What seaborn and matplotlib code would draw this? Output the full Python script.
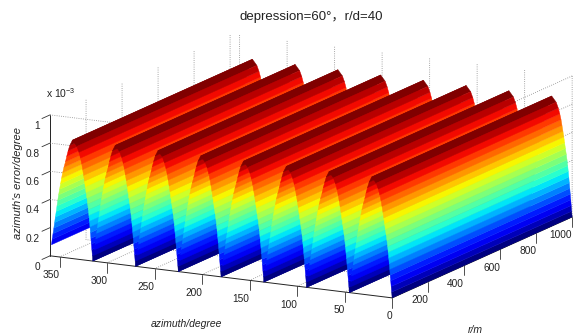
import numpy as np
import matplotlib
matplotlib.use('Agg')
import matplotlib.pyplot as plt
from mpl_toolkits.mplot3d import proj3d
import seaborn as sns

# ridge profile, one hump of 45 degrees (z in units of 1e-3)
hump_az = [0, .5, 1.0, 1.5, 2.0, 2.5, 3.0, 3.55, 4.1, 4.7, 5.4, 6.2, 7.1, 7.95, 8.8, 9.7, 10.7, 11.7, 13.0, 14.6, 16.8,
           21.5, 24.3, 26.0, 27.5, 28.8, 30.4, 31.8, 32.9, 34.0, 35.0, 36.0, 36.9, 37.7, 38.5, 39.4, 40.2, 41.0, 41.9,
           42.7, 43.5, 44.3]
hump_z = [0, .04, .08, .12, .16, .20, .24, .28, .32, .36, .40, .44, .48, .52, .56, .60, .64, .68, .72, .76, .80,
          .84, .80, .76, .72, .68, .64, .60, .56, .52, .48, .44, .40, .36, .32, .28, .24, .20, .16,
          .12, .08, .04]
hump_starts = [0, 45, 90, 135, 180, 225, 270, 315]
r_range = [0, 1000]
r_ticks = [200, 400, 600, 800, 1000]
az_ticks = [0, 50, 100, 150, 200, 250, 300, 350]
z_ticks = [0, .2, .4, .6, .8, 1]
n_bands = 21

sns.set_theme(style='white', rc={
    'grid.linestyle': ':', 'grid.color': '#888888', 'grid.linewidth': 0.6,
    'axes.grid': True})
plt.rcParams['font.family'] = ['Liberation Sans', 'Noto Sans CJK SC', 'DejaVu Sans']
plt.rcParams['mathtext.default'] = 'regular'

# build the surface from the humps
az = np.concatenate([np.array(hump_az) + s for s in hump_starts])
z = np.concatenate([np.array(hump_z) for s in hump_starts])
az, z = az[:-1], z[:-1]
R, A = np.meshgrid(r_range, az)
Z = np.column_stack([z, z])

jet = sns.color_palette(plt.get_cmap('jet', n_bands)(np.arange(n_bands))[:, :3].tolist())
mid = (z[:-1] + z[1:]) / 2
band = np.clip((mid / max(hump_z) * n_bands).astype(int), 0, n_bands - 1)
colors = np.ones(Z.shape + (3,))
colors[:-1, 0] = np.array(jet)[band]

fig = plt.figure(figsize=(5.75, 3.36), dpi=100)
ax = fig.add_axes([3 / 575, -138 / 336, 600 / 575, 600 / 336], projection='3d', proj_type='ortho',
                  computed_zorder=False)
ax.view_init(elev=13.6, azim=207.6)
ax.set_box_aspect((388.6, 386, 145), zoom=0.9167)
ax.plot_surface(R, A, Z, facecolors=colors, rstride=1, cstride=1, shade=False, linewidth=0.3, zorder=5)
ax.set_xlim(0, 1000)
ax.set_ylim(0, 360)
ax.set_zlim(0, 1)
ax.set_xticks(r_ticks)
ax.set_yticks(az_ticks)
ax.set_zticks(z_ticks)
ax.tick_params(axis='both', color='none', labelcolor='none')
ax.xaxis.set_major_formatter(plt.NullFormatter())
ax.yaxis.set_major_formatter(plt.NullFormatter())
ax.zaxis.set_major_formatter(plt.NullFormatter())

for axis in [ax.xaxis, ax.yaxis, ax.zaxis]:
    axis.set_pane_color((1, 1, 1, 1))
    axis.pane.set_edgecolor('none')
    axis.line.set_color('#222222')
    axis.line.set_linewidth(0.7)
ax.zaxis._axinfo['grid']['linewidth'] = 0

# level lines run along the near walls, the surface hides most of them
grid_kw = dict(color='#888888', lw=0.6, ls=':', zorder=1)
for t in z_ticks[2:]:
    ax.plot([0, 0], [360, 0], [t, t], **grid_kw)
    ax.plot([1000, 0], [0, 0], [t, t], **grid_kw)

tick_kw = dict(color='#333333', lw=0.6)
text_kw = dict(fontsize=7.3, color='#222222', ha='right', va='center')
M = ax.get_proj()


def label_at(x, y, z_pos, s):
    px, py, _ = proj3d.proj_transform(x, y, z_pos, M)
    ax.text2D(px, py, s, transform=ax.transData, **text_kw)


# matlab style ticks and labels
for t in r_ticks:
    ax.plot([t, t], [0, 0], [0, -0.07], **tick_kw)
    label_at(t, 0, -0.13, str(t))
for t in az_ticks:
    ax.plot([0, 0], [t, t], [0, -0.07], **tick_kw)
    label_at(0, t, -0.13, str(t))
for t in z_ticks:
    ax.plot([0, -45], [360, 360], [t, t], **tick_kw)
    label_at(-56, 360, t - 0.046, f'{t:g}')

fig.text(311 / 575, 1 - 17 / 336, 'depression=60°，r/d=40', fontsize=9.5, color='#222222', ha='center', va='center')
fig.text(61 / 575, 1 - 93 / 336, 'x 10$^{-3}$', fontsize=7.5, color='#222222', ha='center', va='center')
fig.text(186 / 575, 1 - 324 / 336, 'azimuth/degree', fontsize=7.5, style='italic', color='#222222', ha='center', va='center')
fig.text(475 / 575, 1 - 330 / 336, 'r/m', fontsize=7.5, style='italic', color='#222222', ha='center', va='center')
fig.text(18 / 575, 1 - 183 / 336, "azimuth's error/degree", fontsize=8, style='italic', color='#222222',
         rotation=90, ha='center', va='center')

fig.savefig('out.png', dpi=100)
